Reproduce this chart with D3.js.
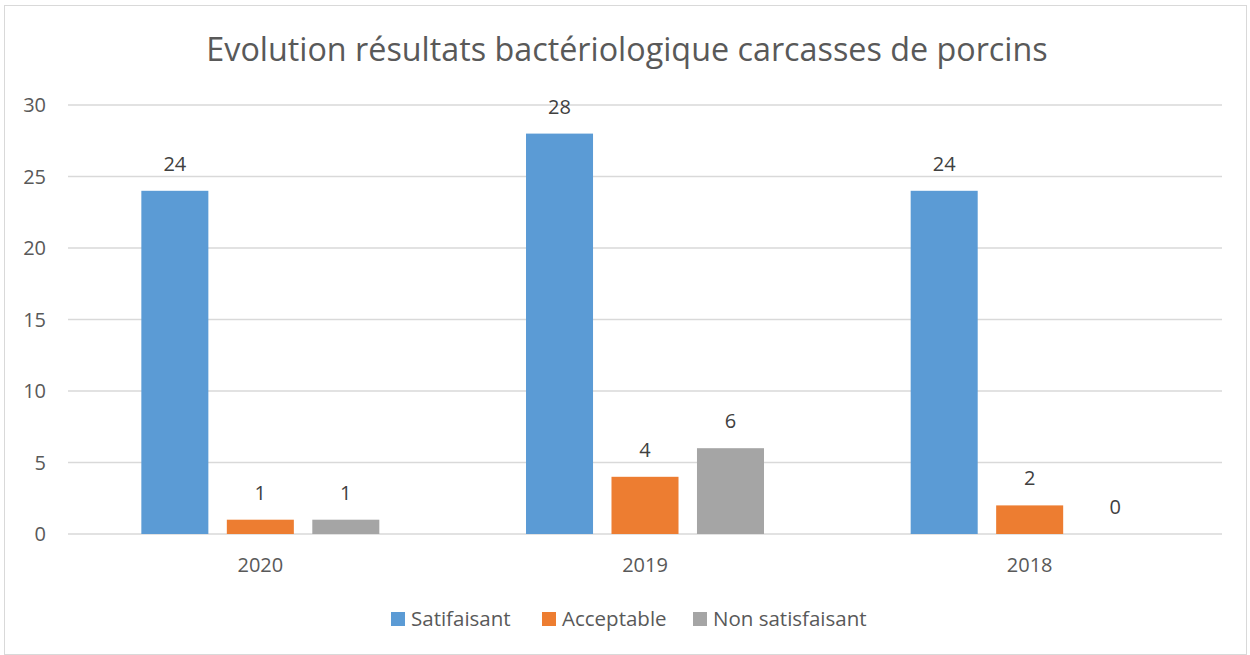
<!DOCTYPE html>
<html lang="fr">
<head>
  <meta charset="utf-8">
  <title>Evolution résultats bactériologique</title>
  <script src="https://cdn.jsdelivr.net/npm/d3@7"></script>
  <style>
    body { margin: 0; background: #fff; }
    text { font-family: "Open Sans", "Liberation Sans", sans-serif; fill: #595959; }
  </style>
</head>
<body>
  <script>
    // data
    var years = ["2020", "2019", "2018"];
    var seriesNames = ["Satifaisant", "Acceptable", "Non satisfaisant"];
    var satifaisant = [24, 28, 24];
    var acceptable = [1, 4, 2];
    var nonSatisfaisant = [1, 6, 0];
    var yTicks = [0, 5, 10, 15, 20, 25, 30];
    var colors = ["#5b9bd5", "#ed7d31", "#a5a5a5"];

    var W = 1250, H = 655;
    var margin = { top: 105, right: 28, bottom: 121, left: 68 };
    var width = W - margin.left - margin.right;
    var height = H - margin.top - margin.bottom;

    var table = years.map(function(y, i) {
      return { year: y, values: [satifaisant[i], acceptable[i], nonSatisfaisant[i]] };
    });

    var svg = d3.select("body").append("svg")
      .attr("width", W)
      .attr("height", H);

    // chart frame
    svg.append("rect")
      .attr("x", 4.5).attr("y", 5.5)
      .attr("width", W - 8).attr("height", H - 6)
      .attr("fill", "none")
      .attr("stroke", "#d9d9d9")
      .attr("stroke-width", 1);

    svg.append("text")
      .attr("x", 627)
      .attr("y", 50)
      .attr("dy", "0.35em")
      .attr("text-anchor", "middle")
      .attr("font-size", 32.3)
      .text("Evolution résultats bactériologique carcasses de porcins");

    var g = svg.append("g")
      .attr("transform", "translate(" + margin.left + "," + margin.top + ")");

    var x0 = d3.scaleBand()
      .domain(years)
      .range([0, width]);

    var x1 = d3.scaleBand()
      .domain(d3.range(seriesNames.length))
      .range([0, x0.bandwidth()])
      .paddingInner(0.216)
      .paddingOuter(0.858);

    var y = d3.scaleLinear()
      .domain([0, 30])
      .range([height, 0]);

    // grid
    g.append("g")
      .selectAll("line")
      .data(yTicks)
      .enter().append("line")
      .attr("x1", 0).attr("x2", width)
      .attr("y1", function(d) { return y(d); })
      .attr("y2", function(d) { return y(d); })
      .attr("stroke", "#d9d9d9")
      .attr("stroke-width", 1.3);

    // y labels
    g.append("g")
      .selectAll("text")
      .data(yTicks)
      .enter().append("text")
      .attr("x", -22)
      .attr("y", function(d) { return y(d); })
      .attr("dy", "0.35em")
      .attr("text-anchor", "end")
      .attr("font-size", 20)
      .text(function(d) { return d; });

    var groups = g.selectAll(".grp")
      .data(table)
      .enter().append("g")
      .attr("class", "grp")
      .attr("transform", function(d) { return "translate(" + x0(d.year) + ",0)"; });

    groups.selectAll("rect")
      .data(function(d) { return d.values; })
      .enter().append("rect")
      .attr("x", function(d, i) { return x1(i); })
      .attr("y", function(d) { return y(d); })
      .attr("width", x1.bandwidth())
      .attr("height", function(d) { return height - y(d); })
      .attr("fill", function(d, i) { return colors[i]; });

    groups.selectAll(".lbl")
      .data(function(d) { return d.values; })
      .enter().append("text")
      .attr("class", "lbl")
      .attr("x", function(d, i) { return x1(i) + x1.bandwidth() / 2; })
      .attr("y", function(d) { return y(d) - 27; })
      .attr("dy", "0.35em")
      .attr("text-anchor", "middle")
      .attr("font-size", 20)
      .style("fill", "#404040")
      .text(function(d) { return d; });

    // x labels
    g.append("g")
      .selectAll("text")
      .data(years)
      .enter().append("text")
      .attr("x", function(d) { return x0(d) + x0.bandwidth() / 2; })
      .attr("y", height + 31)
      .attr("dy", "0.35em")
      .attr("text-anchor", "middle")
      .attr("font-size", 20)
      .text(function(d) { return d; });

    // legend
    var legendX = [391, 542, 693];
    var legend = svg.append("g")
      .selectAll("g")
      .data(seriesNames)
      .enter().append("g")
      .attr("transform", function(d, i) { return "translate(" + legendX[i] + ",612)"; });

    legend.append("rect")
      .attr("width", 14).attr("height", 14)
      .attr("fill", function(d, i) { return colors[i]; });

    legend.append("text")
      .attr("x", 20)
      .attr("y", 7)
      .attr("dy", "0.35em")
      .attr("font-size", 20.5)
      .text(function(d) { return d; });
  </script>
</body>
</html>
